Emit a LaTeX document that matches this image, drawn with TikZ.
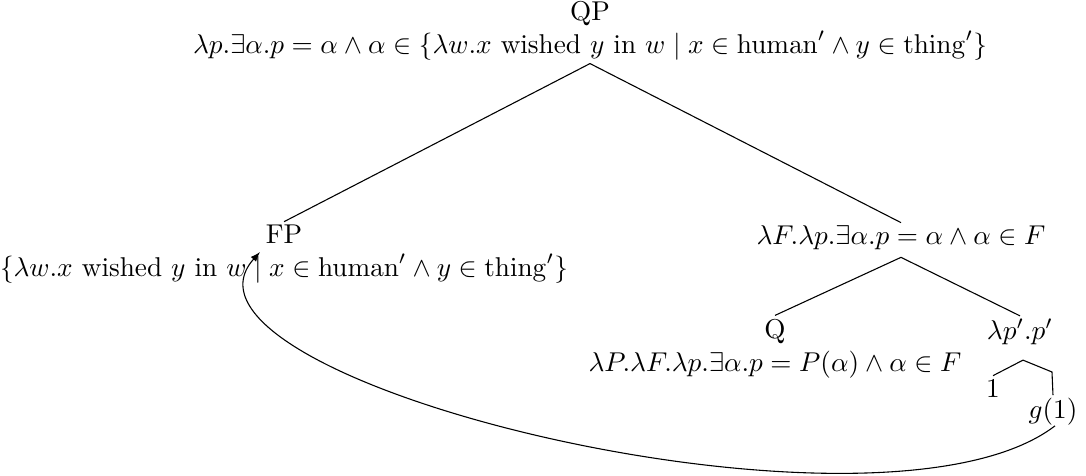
\documentclass[tikz,border=0pt]{standalone}
\usetikzlibrary{arrows.meta,calc}
\begin{document}
\begin{tikzpicture}[x=0.3675pt,y=-0.3675pt,
  lbl/.style={align=center,inner sep=1pt},
  edge/.style={line width=0.4pt},
  movearrow/.style={line width=0.4pt,-{Latex[length=3.6pt,width=2.6pt]}}]
\useasboundingbox (0,0) rectangle (1086,476);
\node[lbl] (qp) at (590,31) {QP\\ $\lambda p.\exists\alpha.p=\alpha\wedge\alpha\in\{\lambda w.x\textrm{ wished }y\textrm{ in }w\mid x\in\mathrm{human}'\wedge y\in\mathrm{thing}'\}$};
\node[lbl] (fp) at (284,254) {FP\\ $\{\lambda w.x\textrm{ wished }y\textrm{ in }w\mid x\in\mathrm{human}'\wedge y\in\mathrm{thing}'\}$};
\node[lbl] (f) at (901,238) {$\lambda F.\lambda p.\exists\alpha.p=\alpha\wedge\alpha\in F$};
\node[lbl] (q) at (775,349) {Q\\ $\lambda P.\lambda F.\lambda p.\exists\alpha.p=P(\alpha)\wedge\alpha\in F$};
\node[lbl] (lp) at (1020,332) {$\lambda p'.p'$};
\node[lbl] (one) at (993,388) {1};
\node[lbl] (g) at (1053,412) {$g(1)$};
\coordinate (e) at (1052,372);
\draw[edge] (qp.south) -- (fp.north);
\draw[edge] (qp.south) -- (f.north);
\draw[edge] ($(f.south)+(0,4)$) -- ($(q.north)+(0,-1)$);
\draw[edge] ($(f.south)+(0,4)$) -- (lp.north);
\draw[edge] ($(lp.south)+(3,12)$) -- (one.north);
\draw[edge] ($(lp.south)+(3,12)$) -- (e) -- (g.north);
\draw[movearrow] ($(g.south)+(2,-3)$) .. controls (880,560) and (145,380) .. ($(fp.center)+(-24,-2)$);
\end{tikzpicture}
\end{document}
